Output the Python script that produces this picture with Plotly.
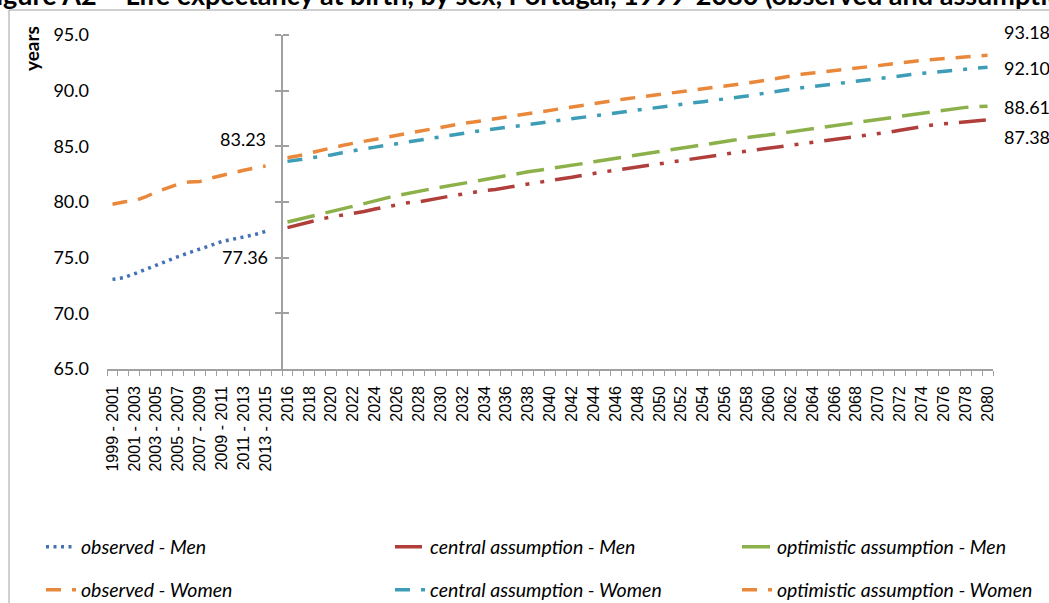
import plotly.graph_objects as go

# ---------------- data ----------------
obs_periods = ["1999 - 2001", "2000 - 2002", "2001 - 2003", "2002 - 2004", "2003 - 2005",
               "2004 - 2006", "2005 - 2007", "2006 - 2008", "2007 - 2009", "2008 - 2010",
               "2009 - 2011", "2010 - 2012", "2011 - 2013", "2012 - 2014", "2013 - 2015"]
men_observed = [73.05, 73.20, 73.55, 73.95, 74.35, 74.70, 75.10, 75.45, 75.75, 76.10,
                76.45, 76.65, 76.85, 77.07, 77.36]
women_observed = [79.80, 80.00, 80.10, 80.45, 80.90, 81.25, 81.60, 81.80, 81.85, 82.15,
                  82.40, 82.60, 82.85, 83.05, 83.23]

proj_years = [str(y) for y in range(2016, 2081)]
men_central = [77.70, 77.97, 78.22, 78.45, 78.66, 78.82, 78.95, 79.15, 79.37, 79.57,
               79.76, 79.93, 80.02, 80.17, 80.37, 80.55, 80.72, 80.88, 81.02, 81.13,
               81.27, 81.45, 81.62, 81.77, 81.90, 82.05, 82.22, 82.40, 82.58, 82.72,
               82.85, 83.00, 83.16, 83.32, 83.46, 83.60, 83.74, 83.88, 84.02, 84.16,
               84.30, 84.44, 84.57, 84.68, 84.82, 84.96, 85.10, 85.24, 85.38, 85.51,
               85.64, 85.76, 85.88, 85.99, 86.10, 86.27, 86.44, 86.61, 86.78, 86.92,
               87.02, 87.10, 87.19, 87.29, 87.38]
men_optimistic = [78.20, 78.45, 78.70, 78.93, 79.15, 79.42, 79.62, 79.85, 80.12, 80.35,
                  80.57, 80.78, 80.98, 81.15, 81.32, 81.50, 81.68, 81.88, 82.07, 82.25,
                  82.42, 82.57, 82.71, 82.85, 82.98, 83.13, 83.29, 83.45, 83.62, 83.78,
                  83.93, 84.08, 84.24, 84.40, 84.55, 84.70, 84.85, 84.99, 85.13, 85.27,
                  85.43, 85.60, 85.78, 85.93, 86.05, 86.17, 86.30, 86.43, 86.56, 86.69,
                  86.82, 86.96, 87.10, 87.25, 87.40, 87.55, 87.69, 87.83, 87.97, 88.12,
                  88.27, 88.42, 88.50, 88.56, 88.61]
women_central = [83.65, 83.78, 83.92, 84.07, 84.23, 84.43, 84.62, 84.79, 84.93, 85.08,
                 85.24, 85.40, 85.57, 85.72, 85.87, 86.02, 86.17, 86.31, 86.44, 86.57,
                 86.70, 86.85, 87.00, 87.15, 87.28, 87.40, 87.52, 87.65, 87.78, 87.90,
                 88.02, 88.14, 88.27, 88.40, 88.53, 88.66, 88.78, 88.90, 89.01, 89.12,
                 89.23, 89.36, 89.52, 89.68, 89.84, 90.00, 90.14, 90.26, 90.37, 90.48,
                 90.59, 90.70, 90.81, 90.93, 91.05, 91.18, 91.32, 91.46, 91.57, 91.66,
                 91.75, 91.84, 91.93, 92.02, 92.10]
women_optimistic = [83.98, 84.15, 84.40, 84.64, 84.86, 85.07, 85.27, 85.45, 85.63, 85.82,
                    86.01, 86.19, 86.37, 86.56, 86.75, 86.92, 87.06, 87.18, 87.33, 87.50,
                    87.67, 87.83, 87.98, 88.11, 88.23, 88.38, 88.54, 88.70, 88.86, 89.01,
                    89.15, 89.28, 89.40, 89.52, 89.65, 89.78, 89.90, 90.02, 90.14, 90.27,
                    90.40, 90.54, 90.68, 90.83, 91.00, 91.18, 91.33, 91.47, 91.58, 91.68,
                    91.79, 91.90, 92.01, 92.13, 92.25, 92.38, 92.52, 92.65, 92.73, 92.80,
                    92.87, 92.95, 93.04, 93.11, 93.18]

y_ticks = [65, 70, 75, 80, 85, 90, 95]
gap_category = " "
categories = obs_periods + [gap_category] + proj_years
tick_text = [c if i % 2 == 0 else "" for i, c in enumerate(categories)]

title_text = "Figure A2 \u2013 Life expectancy at birth, by sex, Portugal, 1999-2080 (observed and assumptions)"

# ---------------- styling ----------------
W, H = 1049, 603
ML, MR, MT, MB = 107, 56, 35, 234
PW, PH = W - ML - MR, H - MT - MB

def px_x(px):
    return (px - ML) / PW

def px_y(py):
    return (H - MB - py) / PH

BLUE = "#4271B6"
ORANGE = "#E9883B"
RED = "#B03E3B"
GREEN = "#8DB14A"
TEAL = "#3D9DB6"
GRAY = "#A0A0A0"
LW = 3.5
NUM_FONT = "Lato, Carlito, Calibri, sans-serif"
AX_FONT = "Liberation Sans, Arial, sans-serif"

fig = go.Figure()

# (name, x, y, colour, dash, legend id)
series = [
    ("observed - Men", obs_periods, men_observed, BLUE, "3px,4.5px", "legend"),
    ("central assumption - Men", proj_years, men_central, RED, "27px,11px,4px,11px,4px,11px", "legend2"),
    ("optimistic assumption - Men", proj_years, men_optimistic, GREEN, "28px,11px", "legend3"),
    ("observed - Women", obs_periods, women_observed, ORANGE, "15px,11px", "legend4"),
    ("central assumption - Women", proj_years, women_central, TEAL, "15px,11px,4px,11px", "legend5"),
    ("optimistic assumption - Women", proj_years, women_optimistic, ORANGE, "15px,11px", "legend6"),
]
for name, xs, ys, col, dash, leg in series:
    fig.add_trace(go.Scatter(x=xs, y=ys, name=name, mode="lines",
                             line=dict(color=col, width=LW, dash=dash),
                             legend=leg, hoverinfo="skip"))

# empty traces so the crossing value axis (drawn at 2016) is rendered
for ax in ["y2", "y3"]:
    fig.add_trace(go.Scatter(x=[], y=[], yaxis=ax, showlegend=False, hoverinfo="skip"))

# ---------------- annotations ----------------
ann = []
lab_font = dict(family=NUM_FONT, size=18, color="black")
last_obs_idx = categories.index(obs_periods[-1])
last_proj_idx = categories.index(proj_years[-1])
ann.append(dict(x=last_obs_idx, y=women_observed[-1], xref="x", yref="y",
                text=f"{women_observed[-1]:.2f}", showarrow=False, xanchor="right",
                yanchor="middle", xshift=2, yshift=27, font=lab_font))
ann.append(dict(x=last_obs_idx, y=men_observed[-1], xref="x", yref="y",
                text=f"{men_observed[-1]:.2f}", showarrow=False, xanchor="right",
                yanchor="middle", xshift=4, yshift=-26, font=lab_font))
for vals, ys in [(women_optimistic, 23), (women_central, -1), (men_optimistic, -1), (men_central, -17)]:
    ann.append(dict(x=last_proj_idx, y=vals[-1], xref="x", yref="y",
                    text=f"{vals[-1]:.2f}", showarrow=False, xanchor="left",
                    yanchor="middle", xshift=14, yshift=ys, font=lab_font))
ann.append(dict(x=px_x(31), y=px_y(49), xref="paper", yref="paper", text="<b>years</b>",
                textangle=-90, showarrow=False, xanchor="center", yanchor="middle",
                font=dict(family=NUM_FONT, size=19, color="black")))
ann.append(dict(x=px_x(-21), y=px_y(-5.5), xref="paper", yref="paper", text=f"<b>{title_text}</b>",
                showarrow=False, xanchor="left", yanchor="middle",
                font=dict(family=NUM_FONT, size=27, color="black")))

axis_pos = 16 / len(categories)

leg_font = dict(family=NUM_FONT, size=19.5, color="black", style="italic")
legend_pos = {"legend": (41, 547), "legend2": (390, 547), "legend3": (737, 547),
              "legend4": (41, 590), "legend5": (390, 590), "legend6": (737, 590)}
legends = {k: dict(orientation="h", xanchor="left", yanchor="middle", x=px_x(px), y=px_y(py),
                   bgcolor="rgba(0,0,0,0)", font=leg_font)
           for k, (px, py) in legend_pos.items()}

fig.update_layout(
    width=W, height=H, autosize=False,
    margin=dict(l=ML, r=MR, t=MT, b=MB, pad=0, autoexpand=False),
    paper_bgcolor="white", plot_bgcolor="white",
    showlegend=True,
    **legends,
    xaxis=dict(type="category", categoryorder="array", categoryarray=categories,
               range=[-0.5, len(categories) - 0.5], tickmode="array",
               tickvals=categories, ticktext=tick_text, tickson="boundaries",
               ticks="outside", ticklen=5, tickwidth=1, tickcolor=GRAY,
               showline=True, linecolor=GRAY, linewidth=1.5, showgrid=False, zeroline=False,
               tickangle=-90, ticklabelstandoff=9,
               tickfont=dict(family=AX_FONT, size=16, color="black")),
    yaxis=dict(range=[65, 95], tickvals=y_ticks, tickformat=".1f", ticks="",
               showline=False, showgrid=False, zeroline=False, ticklabelstandoff=17,
               tickfont=dict(family=NUM_FONT, size=18, color="black")),
    yaxis2=dict(range=[65, 95], overlaying="y", anchor="free", position=axis_pos, side="left",
                tickvals=y_ticks[1:], ticks="outside", ticklen=6, tickcolor=GRAY, tickwidth=1.5,
                showticklabels=False, showline=True, linecolor=GRAY, linewidth=1.5,
                showgrid=False, zeroline=False),
    yaxis3=dict(range=[65, 95], overlaying="y", anchor="free", position=axis_pos, side="right",
                tickvals=y_ticks[1:], ticks="outside", ticklen=6, tickcolor=GRAY, tickwidth=1.5,
                showticklabels=False, showline=False,
                showgrid=False, zeroline=False),
    annotations=ann,
    shapes=[dict(type="rect", xref="paper", yref="paper", x0=px_x(9), y0=px_y(10),
                 x1=px_x(1065), y1=px_y(620), line=dict(color=GRAY, width=1), layer="below")],
)

fig.write_html("out.html")
